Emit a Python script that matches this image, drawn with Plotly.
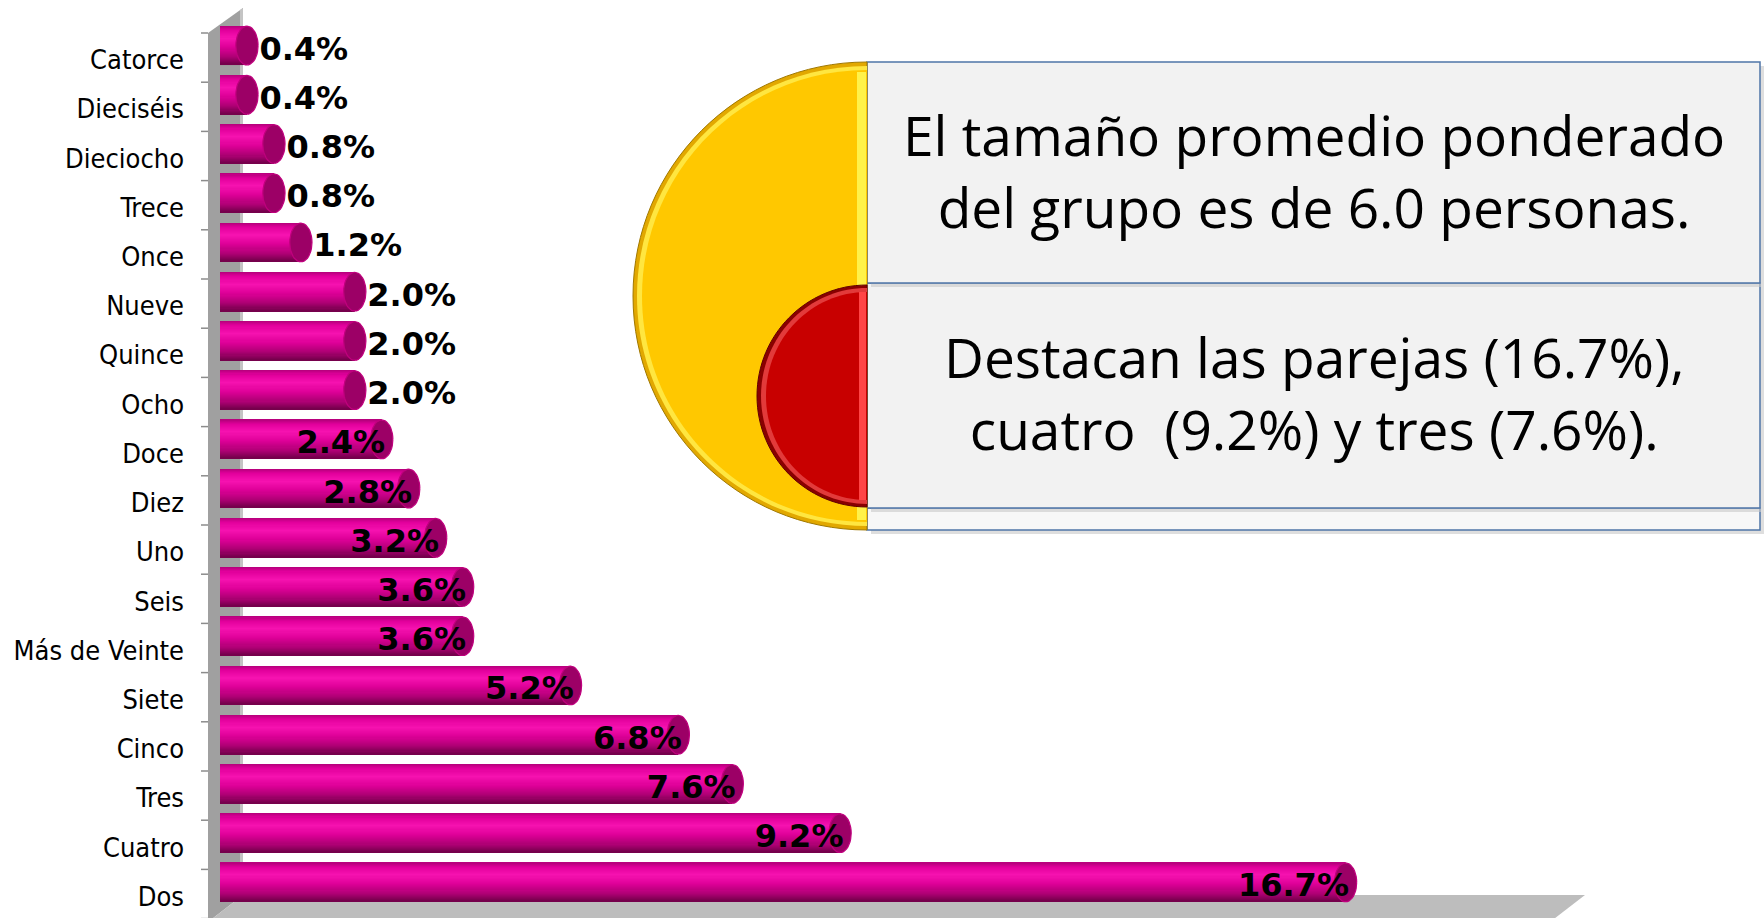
import numpy as np
import plotly.graph_objects as go

# datos
categorias = ["Catorce", "Dieciséis", "Dieciocho", "Trece", "Once", "Nueve", "Quince", "Ocho",
              "Doce", "Diez", "Uno", "Seis", "Más de Veinte", "Siete", "Cinco", "Tres", "Cuatro", "Dos"]
porcentajes = [0.4, 0.4, 0.8, 0.8, 1.2, 2.0, 2.0, 2.0, 2.4, 2.8, 3.2, 3.6, 3.6, 5.2, 6.8, 7.6, 9.2, 16.7]
etiquetas = [f"{v:.1f}%" for v in porcentajes]

texto_1 = "El tamaño promedio ponderado<br>del grupo es de 6.0 personas."
texto_2 = "Destacan las parejas (16.7%),<br>cuatro\u00a0 (9.2%) y tres (7.6%)."

W, H = 1764, 918
L, R, T, B = 220, 1568, 21, 907
n = len(categorias)
idx = np.arange(n)


def px(x):
    return (x - L) / (R - L)


def py(y):
    return (B - y) / (B - T)


def poly(pts):
    return "M " + " L ".join(f"{px(x):.5f},{py(y):.5f}" for x, y in pts) + " Z"


def half_disk(cx, cy, rx, ry):
    k = 0.5523
    p = [(cx, cy - ry), (cx - k * rx, cy - ry), (cx - rx, cy - k * ry), (cx - rx, cy),
         (cx - rx, cy + k * ry), (cx - k * rx, cy + ry), (cx, cy + ry)]
    q = [f"{px(x):.5f},{py(y):.5f}" for x, y in p]
    return f"M {q[0]} C {q[1]} {q[2]} {q[3]} C {q[4]} {q[5]} {q[6]} Z"


def hex2rgb(h):
    return np.array([int(h[i:i + 2], 16) for i in (1, 3, 5)], dtype=float)


fig = go.Figure()

# cilindros: franjas horizontales para simular el degradado
grad_pos = [0.0, 0.12, 0.32, 0.55, 0.8, 1.0]
grad_col = [hex2rgb(c) for c in ["#B4007A", "#E2009C", "#F612B0", "#DE0098", "#AE0074", "#720049"]]
alto = 0.79
nf = 36
for j in range(nf):
    f = (j + 0.5) / nf
    rgb = [np.interp(f, grad_pos, [c[k] for c in grad_col]) for k in range(3)]
    col = "rgb(%d,%d,%d)" % tuple(int(round(c)) for c in rgb)
    w = alto / nf * (1.0 if j == nf - 1 else 1.6)
    fig.add_trace(go.Bar(x=porcentajes, y=idx, orientation="h", width=w,
                         offset=-alto / 2 + j * alto / nf,
                         marker=dict(color=col, line=dict(width=0)),
                         hoverinfo="skip", showlegend=False))

# tapas de los cilindros
t = np.linspace(0, 2 * np.pi, 41)
rx, ry = 0.165, alto / 2
cx, cy = [], []
for i, v in enumerate(porcentajes):
    cx += list(v + rx * np.cos(t)) + [None]
    cy += list(i + ry * np.sin(t)) + [None]
fig.add_trace(go.Scatter(x=cx, y=cy, mode="lines", fill="toself", fillcolor="#9C0066",
                         line=dict(color="#C0007E", width=1.2), hoverinfo="skip", showlegend=False))

# etiquetas de valor
fuera = [v <= 2.0 for v in porcentajes]
tx = [v + rx + 0.02 if f else v + 0.05 for v, f in zip(porcentajes, fuera)]
ty = [i + 0.12 for i in idx]
tpos = ["middle right" if f else "middle left" for f in fuera]
fig.add_trace(go.Scatter(x=tx, y=ty, mode="text", text=etiquetas, textposition=tpos,
                         textfont=dict(family="DejaVu Sans", size=32, color="black", weight="bold"),
                         hoverinfo="skip", showlegend=False))

shapes = []
# pared y piso 3D
shapes.append(dict(type="path", xref="paper", yref="paper", layer="below",
                   path=poly([(208, 33), (243, 8), (243, 895), (208, 922)]),
                   fillcolor="#A0A0A0", line=dict(width=0)))
shapes.append(dict(type="path", xref="paper", yref="paper", layer="below",
                   path=poly([(240, 10), (243, 8), (243, 895), (240, 897)]),
                   fillcolor="#C4C4C4", line=dict(width=0)))
shapes.append(dict(type="path", xref="paper", yref="paper", layer="below",
                   path=poly([(208, 922), (243, 895), (1585, 895), (1550, 922)]),
                   fillcolor="#BDBDBD", line=dict(width=0)))
for k in range(n + 1):
    yk = 33 + k * 49.2
    shapes.append(dict(type="line", xref="paper", yref="paper", layer="below",
                       x0=px(201), x1=px(208), y0=py(yk), y1=py(yk),
                       line=dict(color="#8C8C8C", width=1.5)))

# recuadros de texto
for y0, y1, fc in [(508, 530, "#F7F7F7"), (283, 508, "#F2F2F2"), (62, 283, "#F2F2F2")]:
    shapes.append(dict(type="rect", xref="paper", yref="paper", layer="below",
                       x0=px(871), x1=px(1764), y0=py(y0 + 4), y1=py(y1 + 4),
                       fillcolor="#C8C8C8", line=dict(width=0), opacity=0.6))
    shapes.append(dict(type="rect", xref="paper", yref="paper", layer="below",
                       x0=px(867), x1=px(1760), y0=py(y0), y1=py(y1),
                       fillcolor=fc, line=dict(color="#4F76A8", width=1.5)))

# semicírculo amarillo
shapes.append(dict(type="path", xref="paper", yref="paper", layer="below",
                   path=half_disk(867, 296, 234, 234), fillcolor="#E2A800",
                   line=dict(color="#A07800", width=1)))
shapes.append(dict(type="path", xref="paper", yref="paper", layer="below",
                   path=half_disk(867, 296, 230, 230), fillcolor="#FFE640", line=dict(width=0)))
shapes.append(dict(type="path", xref="paper", yref="paper", layer="below",
                   path=half_disk(867, 296, 225, 226), fillcolor="#FFC800", line=dict(width=0)))
shapes.append(dict(type="rect", xref="paper", yref="paper", layer="below",
                   x0=px(857), x1=px(866), y0=py(72), y1=py(520),
                   fillcolor="#FFF24A", line=dict(width=0)))

# semicírculo rojo
shapes.append(dict(type="path", xref="paper", yref="paper", layer="below",
                   path=half_disk(867, 396, 110, 111), fillcolor="#8A0000",
                   line=dict(color="#600000", width=1)))
shapes.append(dict(type="path", xref="paper", yref="paper", layer="below",
                   path=half_disk(867, 396, 106, 108), fillcolor="#E23A3A", line=dict(width=0)))
shapes.append(dict(type="path", xref="paper", yref="paper", layer="below",
                   path=half_disk(867, 396, 101, 104), fillcolor="#C80000", line=dict(width=0)))
shapes.append(dict(type="rect", xref="paper", yref="paper", layer="below",
                   x0=px(859), x1=px(866), y0=py(292), y1=py(500),
                   fillcolor="#FF4545", line=dict(width=0)))

fuente_caja = dict(family="Open Sans", size=55, color="black")
annotations = [
    dict(xref="paper", yref="paper", x=px(1314), y=py(170), text=texto_1, showarrow=False,
         xanchor="center", yanchor="middle", align="center", font=fuente_caja),
    dict(xref="paper", yref="paper", x=px(1314), y=py(392), text=texto_2, showarrow=False,
         xanchor="center", yanchor="middle", align="center", font=fuente_caja),
]

fig.update_layout(
    width=W, height=H,
    margin=dict(l=L, r=W - R, t=T, b=H - B, autoexpand=False),
    paper_bgcolor="white", plot_bgcolor="rgba(0,0,0,0)",
    barmode="overlay", showlegend=False,
    shapes=shapes, annotations=annotations,
    xaxis=dict(range=[0, 20], visible=False, fixedrange=True, automargin=False),
    yaxis=dict(range=[n - 0.5, -0.5], tickmode="array", tickvals=idx, ticktext=categorias,
               showgrid=False, zeroline=False, showline=False, ticks="", automargin=False,
               ticklabelstandoff=35, ticklabelshift=-14,
               tickfont=dict(family="DejaVu Sans Condensed", size=27, color="black"),
               fixedrange=True),
)

fig.write_html("out.html", config={"displayModeBar": False},
               post_script="document.body.style.margin='0';document.body.style.overflow='hidden';")
